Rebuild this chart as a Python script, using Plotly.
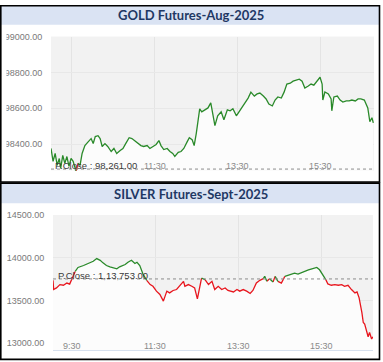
import pandas as pd
import plotly.graph_objects as go

DATE = "2025-07-25 "

# ---------------- data ----------------
gold_time = ["09:00","09:03","09:06","09:09","09:12","09:14","09:17","09:20","09:23","09:26","09:29","09:32","09:35","09:36","09:39","09:42","09:45","09:49","09:54","09:58","10:01","10:04","10:08","10:11","10:14","10:18","10:22","10:27","10:31","10:35","10:40","10:44","10:48","10:53","10:57","11:01","11:06","11:10","11:14","11:19","11:23","11:27","11:32","11:36","11:39","11:43","11:48","11:52","11:56","11:59","12:04","12:08","12:12","12:17","12:20","12:24","12:27","12:30","12:33","12:35","12:38","12:43","12:47","12:51","12:54","12:57","13:01","13:06","13:10","13:15","13:19","13:23","13:28","13:32","13:36","13:41","13:45","13:49","13:54","13:58","14:02","14:07","14:11","14:15","14:20","14:24","14:28","14:33","14:37","14:41","14:46","14:50","14:54","14:59","15:03","15:07","15:12","15:16","15:20","15:25","15:29","15:32","15:33","15:36","15:41","15:45","15:46","15:49","15:54","15:58","16:02","16:07","16:11","16:15","16:20","16:24","16:28","16:33","16:36","16:38","16:41","16:44","16:46"]
gold_price = [98376,98304,98348,98282,98320,98265,98337,98293,98331,98276,98320,98304,98265,98243,98293,98282,98348,98392,98414,98431,98403,98442,98447,98431,98387,98403,98387,98359,98376,98348,98365,98376,98403,98436,98431,98420,98403,98392,98387,98392,98376,98387,98398,98420,98392,98370,98376,98359,98348,98331,98354,98359,98376,98414,98436,98425,98392,98459,98558,98597,98580,98591,98602,98630,98569,98503,98558,98580,98536,98591,98586,98597,98558,98580,98602,98635,98657,98690,98668,98680,98685,98668,98652,98624,98613,98646,98663,98657,98690,98735,98740,98751,98757,98762,98751,98713,98724,98735,98729,98751,98773,98735,98646,98691,98680,98652,98586,98663,98668,98646,98635,98641,98641,98646,98641,98652,98652,98646,98624,98602,98525,98547,98519]
gold_prev_close = 98261
gold_yticks = [98400, 98600, 98800, 99000]

silver_time = ["09:03","09:04","09:08","09:13","09:18","09:23","09:27","09:30","09:35","09:39","09:47","09:54","10:01","10:06","10:11","10:15","10:20","10:25","10:30","10:35","10:39","10:47","10:51","10:56","11:01","11:04","11:08","11:13","11:18","11:23","11:27","11:32","11:37","11:42","11:44","11:47","11:51","11:56","12:01","12:06","12:11","12:13","12:18","12:23","12:27","12:31","12:35","12:37","12:42","12:47","12:52","12:56","13:01","13:06","13:11","13:15","13:23","13:28","13:32","13:37","13:42","13:47","13:51","13:56","14:01","14:06","14:08","14:11","14:15","14:20","14:23","14:27","14:32","14:37","14:42","14:47","14:51","14:56","15:01","15:06","15:11","15:16","15:20","15:23","15:27","15:32","15:36","15:39","15:44","15:49","15:54","15:59","16:03","16:08","16:13","16:18","16:21","16:24","16:28","16:30","16:32","16:35","16:37","16:39","16:42","16:44"]
silver_price = [113737,113629,113648,113687,113679,113705,113693,113745,113841,113887,113910,113933,113960,113991,113971,113941,113910,113895,113884,113872,113895,113922,113948,113971,113933,113948,113910,113803,113737,113687,113667,113610,113571,113494,113540,113610,113590,113618,113629,113679,113725,113667,113687,113667,113648,113520,113687,113763,113745,113687,113725,113629,113667,113629,113648,113618,113601,113629,113610,113629,113610,113583,113618,113705,113737,113756,113783,113725,113756,113717,113783,113725,113705,113783,113795,113803,113821,113810,113829,113841,113860,113872,113879,113887,113860,113803,113745,113694,113679,113687,113679,113687,113667,113679,113629,113590,113601,113532,113359,113243,113224,113127,113077,113127,113051,113077]
silver_prev_close = 113753
silver_yticks = [113000, 113500, 114000, 114500]

xtick_times = ["09:30", "11:30", "13:30", "15:30"]
xtick_text = ["9:30", "11:30", "13:30", "15:30"]

gold_title = "GOLD Futures-Aug-2025"
silver_title = "SILVER Futures-Sept-2025"

# ---------------- layout helpers ----------------
W, H = 383, 362
def fx(px):
    return px / W
def fy(py):
    return 1 - py / H

GREEN = "#2a8a2a"
RED = "#e8161e"
FONT = "Liberation Sans"

fig = go.Figure()

def add_panel(times, prices, pc, xa, ya):
    x = list(pd.to_datetime([DATE + t for t in times]))
    fig.add_trace(go.Scatter(x=x, y=prices, mode="lines", line=dict(width=0, color="rgba(0,0,0,0)"),
                             fill="tozeroy", fillcolor="#fcfcfc", xaxis=xa, yaxis=ya,
                             hoverinfo="skip", showlegend=False))
    n = len(prices)
    above = [p >= pc for p in prices]
    # split into runs; each segment takes the colour of its starting point
    runs = []
    start = 0
    for i in range(1, n):
        if i == n - 1 or above[i] != above[start]:
            runs.append((above[start], start, i))
            start = i
    series = {True: ([], []), False: ([], [])}
    for col, a, b in runs:
        xs, ys = series[col]
        xs.extend(x[a:b + 1] + [None])
        ys.extend(prices[a:b + 1] + [None])
    fig.add_trace(go.Scatter(x=series[False][0], y=series[False][1], mode="lines",
                             line=dict(width=1.3, color=RED), xaxis=xa, yaxis=ya,
                             connectgaps=False, showlegend=False))
    fig.add_trace(go.Scatter(x=series[True][0], y=series[True][1], mode="lines",
                             line=dict(width=1.3, color=GREEN), xaxis=xa, yaxis=ya,
                             connectgaps=False, showlegend=False))

add_panel(gold_time, gold_price, gold_prev_close, "x", "y")
add_panel(silver_time, silver_price, silver_prev_close, "x2", "y2")

xt = [DATE + t for t in xtick_times]
xcommon = dict(type="date", tickvals=xt, showgrid=True, gridcolor="#e4e4e4", gridwidth=1,
               zeroline=False, showticklabels=False, ticks="", fixedrange=True)
ycommon = dict(showgrid=True, gridcolor="#e8e8e8", zeroline=False, ticks="outside", ticklen=6,
               tickcolor="rgba(0,0,0,0)", tickfont=dict(family=FONT, size=9, color="#7a7a7a"),
               fixedrange=True)

fig.update_layout(
    width=W, height=H, margin=dict(l=0, r=0, t=0, b=0),
    paper_bgcolor="white", plot_bgcolor="#f2f2f2", showlegend=False,
    xaxis=dict(**xcommon, domain=[fx(51), fx(374)], anchor="y",
               range=[DATE + "09:00", DATE + "16:47"]),
    yaxis=dict(**ycommon, domain=[fy(168), fy(32)], anchor="x", range=[98252, 99000],
               tickvals=gold_yticks, ticktext=[f"{v:.2f}" for v in gold_yticks]),
    xaxis2=dict(**xcommon, domain=[fx(53), fx(373)], anchor="y2",
                range=[DATE + "09:03", DATE + "16:44"],
                showline=True, linecolor="#d6e0ee", linewidth=1),
    yaxis2=dict(**ycommon, domain=[fy(350), fy(213)], anchor="x2", range=[112920, 114500],
                tickvals=silver_yticks, ticktext=[f"{v:.2f}" for v in silver_yticks]),
)

shapes = []
# title bars
for y0, y1 in [(1, 20), (181, 201)]:
    shapes.append(dict(type="rect", xref="paper", yref="paper", x0=fx(1), x1=fx(379.5),
                       y0=fy(y1), y1=fy(y0), fillcolor="#dae3f3", line=dict(width=0), layer="above"))
# crop masks at left edge (labels cut off in the original screenshot)
shapes.append(dict(type="rect", xref="paper", yref="paper", x0=fx(1), x1=fx(6.5),
                   y0=fy(178), y1=fy(21), fillcolor="white", line=dict(width=0), layer="above"))
shapes.append(dict(type="rect", xref="paper", yref="paper", x0=fx(1), x1=fx(7),
                   y0=fy(358), y1=fy(202), fillcolor="white", line=dict(width=0), layer="above"))
# previous close dotted lines
shapes.append(dict(type="line", xref="x domain", yref="y", x0=0, x1=1, y0=gold_prev_close,
                   y1=gold_prev_close, line=dict(color="#8c8c8c", width=1, dash="dot"), layer="above"))
shapes.append(dict(type="line", xref="x2 domain", yref="y2", x0=0, x1=1, y0=silver_prev_close,
                   y1=silver_prev_close, line=dict(color="#8c8c8c", width=1, dash="dot"), layer="above"))
# panel borders
for y0, y1 in [(0.8, 179.5), (180.6, 359.3)]:
    shapes.append(dict(type="rect", xref="paper", yref="paper", x0=fx(0.8), x1=fx(379.5),
                       y0=fy(y1), y1=fy(y0), line=dict(color="black", width=1.6),
                       fillcolor="rgba(0,0,0,0)", layer="above"))
fig.update_layout(shapes=shapes)

ann = []
ann.append(dict(text=f"<b>{gold_title}</b>", xref="paper", yref="paper", x=fx(191), y=fy(10.5),
                showarrow=False, xanchor="center", yanchor="middle",
                font=dict(family="Lato", size=13, color="#1f3864")))
ann.append(dict(text=f"<b>{silver_title}</b>", xref="paper", yref="paper", x=fx(191), y=fy(191.5),
                showarrow=False, xanchor="center", yanchor="middle",
                font=dict(family="Lato", size=13, color="#1f3864")))
# x tick labels drawn inside the plot areas (top panel: 9:30 hidden behind P.Close label)
for t, s in zip(xt[1:], xtick_text[1:]):
    ann.append(dict(text=s, xref="x", yref="paper", x=t, y=fy(163), showarrow=False,
                    xanchor="center", yanchor="middle",
                    font=dict(family=FONT, size=9, color="#8a8a8a")))
for t, s in zip(xt, xtick_text):
    ann.append(dict(text=s, xref="x2", yref="paper", x=t, y=fy(345.5), showarrow=False,
                    xanchor="center", yanchor="middle",
                    font=dict(family=FONT, size=9, color="#8a8a8a")))
ann.append(dict(text="P.Close : 98,261.00", xref="paper", yref="paper", x=fx(53), y=fy(163),
                showarrow=False, xanchor="left", yanchor="middle",
                font=dict(family=FONT, size=9.5, color="#3a3a3a")))
ann.append(dict(text="P.Close : 1,13,753.00", xref="paper", yref="paper", x=fx(56), y=fy(274.5),
                showarrow=False, xanchor="left", yanchor="middle",
                font=dict(family=FONT, size=9.5, color="#3a3a3a")))
fig.update_layout(annotations=ann)

fig.write_html("out.html", config={"displayModeBar": False},
               post_script="document.body.style.margin='0';document.body.style.overflow='hidden';")
